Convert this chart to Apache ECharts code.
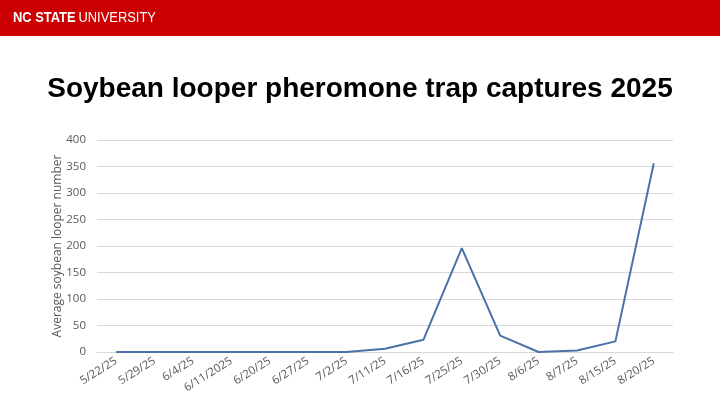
<!DOCTYPE html>
<html><head><meta charset="utf-8">
<script src="https://cdn.jsdelivr.net/npm/echarts@6/dist/echarts.min.js"></script>
<style>html,body{margin:0;padding:0;background:#fff}#c{width:720px;height:405px}</style>
</head><body><div id="c"></div>
<script>
const dates = ['5/22/25','5/29/25','6/4/25','6/11/2025','6/20/25','6/27/25','7/2/25','7/11/25','7/16/25','7/25/25','7/30/25','8/6/25','8/7/25','8/15/25','8/20/25'];
const captures = [0,0,0,0,0,0,0,6,23,196,31,0,3,20,356];
const yTicks = {min:0, max:400, interval:50};
const titleText = 'Soybean looper pheromone trap captures 2025';
const yName = 'Average soybean looper number';

const chart = echarts.init(document.getElementById('c'));
chart.setOption({
  animation:false,
  backgroundColor:'#fff',
  graphic:[
    {type:'rect', shape:{x:0,y:0,width:720,height:36}, style:{fill:'#cc0000'}},
    {type:'text', x:13, y:10, scaleX:0.86, style:{
      text:'{b|NC STATE} {n|UNIVERSITY}',
      rich:{
        b:{fill:'#fff', fontFamily:'Liberation Sans, Arial', fontWeight:'bold', fontSize:15},
        n:{fill:'#fff', fontFamily:'Liberation Sans, Arial', fontSize:15}
      }}}
  ],
  title:{text:titleText, left:'center', top:70, textStyle:{fontFamily:'Liberation Sans, Arial', fontWeight:'bold', fontSize:28, color:'#000'}},
  grid:{left:97, right:47, top:140, bottom:53},
  xAxis:{type:'category', data:dates, boundaryGap:true,
    axisLine:{show:true, lineStyle:{color:'#d9d9d9'}}, axisTick:{show:false},
    axisLabel:{rotate:32, color:'#595959', fontSize:11.5, fontFamily:'Open Sans, Liberation Sans', margin:8, interval:0}},
  yAxis:{type:'value', min:yTicks.min, max:yTicks.max, interval:yTicks.interval,
    name:yName, nameLocation:'middle', nameGap:33, nameRotate:90, nameMoveOverlap:false,
    nameTextStyle:{color:'#595959', fontSize:12, fontFamily:'Open Sans, Liberation Sans'},
    axisLabel:{color:'#595959', fontSize:11.5, fontFamily:'Open Sans, Liberation Sans', margin:11},
    splitLine:{lineStyle:{color:'#d9d9d9'}}, axisLine:{show:false}, axisTick:{show:false}},
  series:[{type:'line', data:captures, symbol:'none', lineStyle:{color:'#4a72a6', width:2}}]
});
</script></body></html>
